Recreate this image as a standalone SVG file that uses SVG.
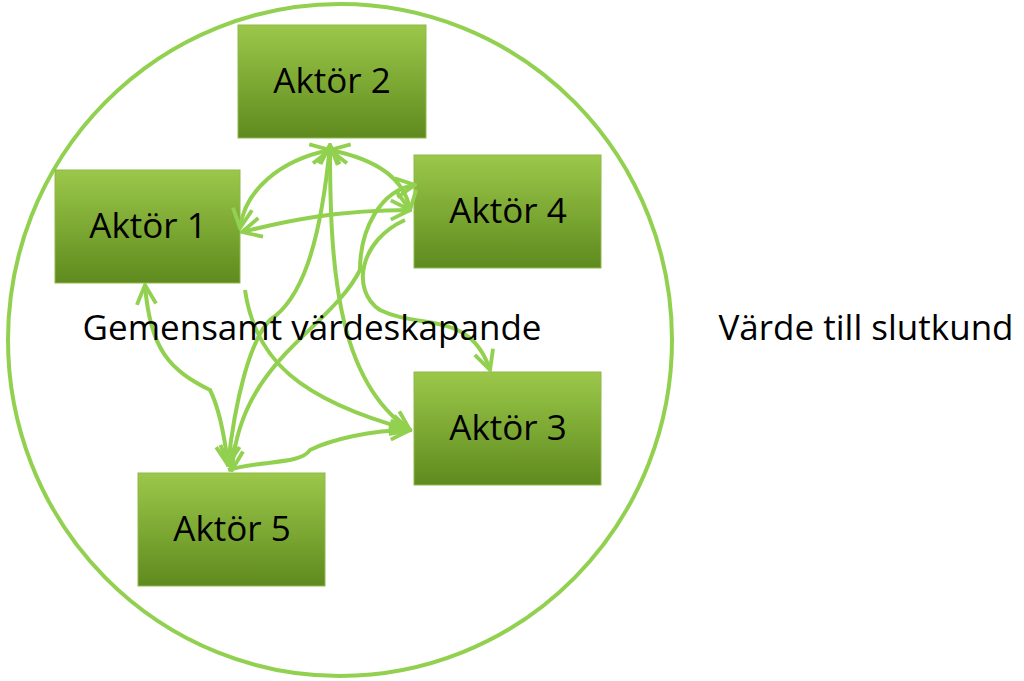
<svg xmlns="http://www.w3.org/2000/svg" width="1024" height="681" viewBox="0 0 1024 681">
<defs>
<linearGradient id="g" x1="0" y1="0" x2="0" y2="1"><stop offset="0" stop-color="#9bc84a"/><stop offset="1" stop-color="#5f8a1e"/></linearGradient>
<marker id="a" viewBox="0 0 10 10" refX="9" refY="5" markerWidth="6" markerHeight="6" orient="auto-start-reverse" markerUnits="strokeWidth"><path d="M1,1 L9,5 L1,9" fill="none" stroke="#92d050" stroke-width="1.6"/></marker>
</defs>
<style>
.n rect{fill:url(#g);stroke:#8fb84a;stroke-width:1}
.n text,.t{font-family:"Open Sans","Liberation Sans",sans-serif;font-size:35px;fill:#000;text-anchor:middle}
#c path{fill:none;stroke:#92d050;stroke-width:4;marker-end:url(#a)}
</style>
<rect width="1024" height="681" fill="#fff"/>
<ellipse cx="340" cy="340" rx="332" ry="336" fill="none" stroke="#92d050" stroke-width="4"/>
<g id="n2" class="n"><rect x="238" y="25" width="188" height="113"/><text x="332" y="93">Aktör 2</text></g>
<g id="n1" class="n"><rect x="55" y="170" width="185" height="113"/><text x="148" y="238">Aktör 1</text></g>
<g id="n4" class="n"><rect x="414" y="155" width="187" height="113"/><text x="508" y="223">Aktör 4</text></g>
<g id="n3" class="n"><rect x="414" y="372" width="187" height="113"/><text x="508" y="440">Aktör 3</text></g>
<g id="n5" class="n"><rect x="138" y="473" width="187" height="113"/><text x="232" y="541">Aktör 5</text></g>
<g id="c">
<path d="M410,210 C340,210 290,220 242,232" style="marker-start:url(#a)"/>
<path d="M330,150 C280,160 245,190 240,228" style="marker-start:url(#a)"/>
<path d="M330,150 C380,160 405,180 410,210" style="marker-start:url(#a)"/>
<path d="M330,145 C330,260 335,380 410,430" style="marker-start:url(#a)"/>
<path d="M330,145 C320,250 300,300 270,320 C250,340 235,400 228,465" style="marker-start:url(#a)"/>
<path d="M145,285 C150,350 170,370 210,390 C220,410 225,440 228,465" style="marker-start:url(#a)"/>
<path d="M228,470 C260,460 300,465 310,450 C330,440 370,430 410,430"/>
<path d="M245,290 C255,360 300,400 410,430"/>
<path d="M415,185 C380,190 360,230 360,270 C330,330 240,360 232,470" style="marker-start:url(#a)"/>
<path d="M405,220 C360,240 350,290 380,310 C420,330 470,310 490,370"/>
</g>
<text class="t" x="312" y="340">Gemensamt värdeskapande</text>
<text class="t" x="866" y="340">Värde till slutkund</text>
</svg>
